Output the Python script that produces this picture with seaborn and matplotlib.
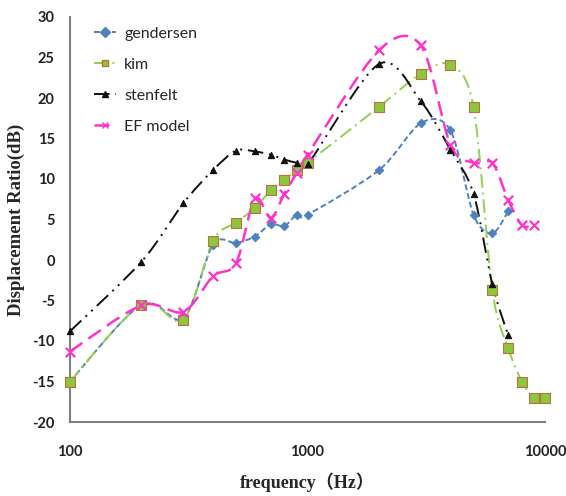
import numpy as np
import pandas as pd
import matplotlib
matplotlib.use('Agg')
import matplotlib.pyplot as plt
from matplotlib.path import Path
from matplotlib.patches import PathPatch
from matplotlib.lines import Line2D
import seaborn as sns

# data
freq_gs = [100, 200, 300, 400, 500, 600, 700, 800, 900, 1000, 2000, 3000, 4000, 5000, 6000, 7000]
gendersen = [-15, -5.5, -7.2, 1.9, 2.1, 2.9, 4.4, 4.2, 5.6, 5.6, 11.1, 16.9, 16.0, 5.6, 3.3, 6.0]
stenfelt = [-8.8, -0.2, 7.0, 11.1, 13.5, 13.4, 13.0, 12.4, 12.0, 11.8, 24.2, 19.6, 13.6, 8.2, -3.0, -9.3]

freq_kim = [100, 200, 300, 400, 500, 600, 700, 800, 900, 1000, 2000, 3000, 4000, 5000, 6000, 7000, 8000, 9000, 10000]
kim = [-15, -5.5, -7.4, 2.4, 4.6, 6.4, 8.6, 9.9, 11.1, 12.0, 18.9, 23.0, 24.1, 18.9, -3.7, -10.9, -15.0, -17.0, -17.0]

freq_ef = [100, 200, 300, 400, 500, 600, 700, 800, 900, 1000, 2000, 3000, 4000, 5000, 6000, 7000, 8000, 9000]
ef_model = [-11.3, -5.6, -6.4, -2.0, -0.4, 7.6, 5.2, 8.2, 10.7, 13.0, 25.9, 26.5, 14.2, 12.0, 12.0, 7.4, 4.3, 4.3]

y_ticks = [-20, -15, -10, -5, 0, 5, 10, 15, 20, 25, 30]
x_ticks = [100, 1000, 10000]

series = [
    # name, x, y, line color, dashes, marker, marker face, marker edge, size
    ('gendersen', freq_gs, gendersen, '#4f81bd', (0, (3, 1.6)), 'D', '#4f81bd', '#4f81bd', 18),
    ('kim', freq_kim, kim, '#92d050', (0, (7, 2.5, 1, 2.5)), 's', '#8dc63f', '#b8743a', 45),
    ('stenfelt', freq_gs, stenfelt, '#111111', (0, (8, 3, 1, 3, 1, 3)), '^', '#111111', '#111111', 20),
    ('EF model', freq_ef, ef_model, '#ff33cc', (0, (6, 3)), 'x', '#ff33cc', '#ff33cc', 45),
]

sns.set_style('white')
plt.rcParams['axes.unicode_minus'] = False


def smooth_path(xs, ys):
    # excel-like smoothed line: catmull-rom segments as bezier curves in log-x space
    pts = np.column_stack([np.log10(xs), ys]).astype(float)
    ext = np.vstack([pts[0], pts, pts[-1]])
    verts = [pts[0]]
    codes = [Path.MOVETO]
    for i in range(len(pts) - 1):
        p0, p1, p2, p3 = ext[i], ext[i + 1], ext[i + 2], ext[i + 3]
        verts += [p1 + (p2 - p0) / 6.5, p2 - (p3 - p1) / 6.5, p2]
        codes += [Path.CURVE4] * 3
    verts = np.array(verts)
    verts[:, 0] = 10 ** verts[:, 0]
    return Path(verts, codes)


fig = plt.figure(figsize=(5.66, 4.96), dpi=100)
ax = fig.add_axes([70 / 566, 1 - 422 / 496, 475 / 566, 405 / 496])
ax.set_xscale('log')

handles = []
for name, xs, ys, color, dash, marker, face, edge, size in series:
    lw = 1.8 if name == 'EF model' else 1.4
    ax.add_patch(PathPatch(smooth_path(xs, ys), fill=False, edgecolor=color,
                           linestyle=dash, linewidth=lw, zorder=2))
    df = pd.DataFrame({'freq': xs, 'value': ys})
    if marker == 'x':
        sns.scatterplot(data=df, x='freq', y='value', marker='x', color=face,
                        s=size, linewidth=1.6, ax=ax, zorder=3, clip_on=False)
    else:
        sns.scatterplot(data=df, x='freq', y='value', marker=marker, color=face,
                        edgecolor=edge, s=size, linewidth=0.8, ax=ax, zorder=3, clip_on=False)
    handles.append(Line2D([], [], color=color, linestyle=dash, linewidth=lw, marker=marker,
                          markersize=5, markerfacecolor=face, markeredgecolor=edge, label=name))

ax.set_xlim(100, 10000)
ax.set_ylim(-20, 30)
ax.set_yticks(y_ticks)
ax.set_xticks(x_ticks)
ax.set_xticklabels([str(t) for t in x_ticks])
ax.set_yticklabels([str(t) for t in y_ticks])

for s in ['top', 'right']:
    ax.spines[s].set_visible(False)
for s in ['left', 'bottom']:
    ax.spines[s].set_color('#7f7f7f')
    ax.spines[s].set_linewidth(1.5)

ax.tick_params(axis='y', direction='in', length=5, width=1.2, color='#7f7f7f', pad=11)
ax.tick_params(axis='x', which='major', direction='inout', length=9, width=1.2, color='#7f7f7f', pad=12)
ax.tick_params(axis='x', which='minor', direction='in', length=4, width=1, color='#7f7f7f')
for lab in ax.get_xticklabels() + ax.get_yticklabels():
    lab.set_fontfamily('Lato')
    lab.set_fontweight('bold')
    lab.set_fontsize(10.5)
    lab.set_color('#222222')

ax.set_ylabel('Displacement Ratio(dB)', family='Liberation Serif', fontweight='bold', fontsize=13.5)
ax.set_xlabel('frequency（Hz）', family=['Liberation Serif', 'Noto Sans CJK SC'], fontweight='bold', fontsize=13)
ax.yaxis.set_label_coords(-0.095, 0.5)
ax.xaxis.set_label_coords(0.5, -0.125)

leg = ax.legend(handles=handles, loc='upper left', bbox_to_anchor=(0.02, 1.012), frameon=False,
                prop={'family': 'Lato', 'size': 11.5}, handlelength=1.4, labelspacing=1.05,
                handletextpad=0.5)

fig.savefig('out.png', dpi=100)
